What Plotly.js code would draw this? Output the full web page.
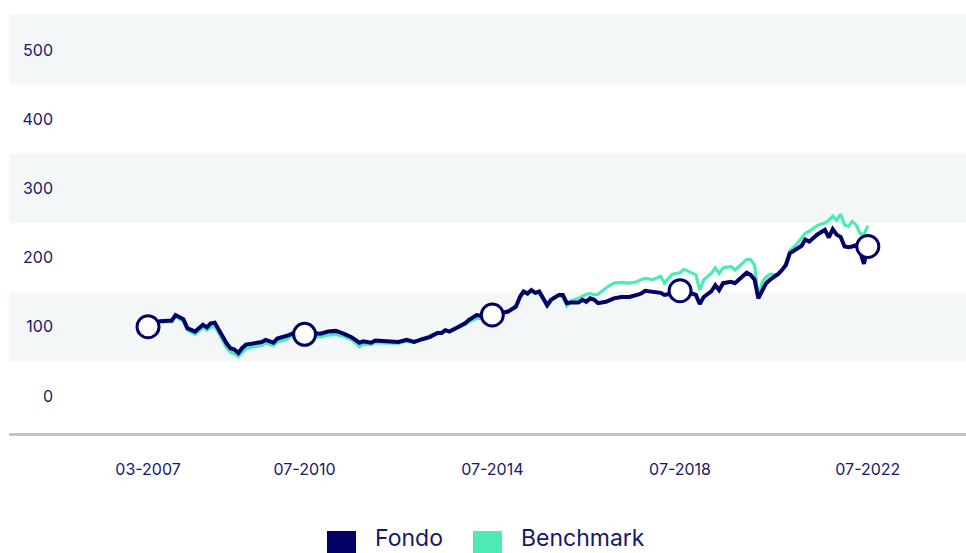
<!DOCTYPE html>
<html>
<head>
<meta charset="utf-8">
<script src="https://cdn.plot.ly/plotly-3.0.1.min.js"></script>
<style>
  html, body { margin: 0; padding: 0; background: #ffffff; }
  #chart { width: 966px; height: 553px; }
</style>
</head>
<body>
<div id="chart"></div>
<script>
// ---- Data ----
const dates = [
  '2007-03-01','2007-06-01','2007-09-01','2007-10-01','2007-12-01','2008-01-01','2008-03-01','2008-05-01','2008-06-01','2008-07-01',
  '2008-08-01','2008-09-01','2008-11-01','2008-12-01','2009-01-01','2009-02-01','2009-03-01','2009-04-01','2009-06-01','2009-08-01',
  '2009-09-01','2009-11-01','2009-12-01','2010-02-01','2010-03-01','2010-05-01','2010-07-01','2010-09-01','2010-11-01','2011-01-01',
  '2011-03-01','2011-05-01','2011-07-01','2011-09-01','2011-10-01','2011-12-01','2012-01-01','2012-04-01','2012-07-01','2012-09-01',
  '2012-11-01','2013-01-01','2013-03-01','2013-05-01','2013-06-01','2013-07-01','2013-08-01','2013-10-01','2013-12-01','2014-01-01',
  '2014-03-01','2014-04-01','2014-07-01','2014-11-01','2015-01-01','2015-02-01','2015-03-01','2015-04-01','2015-05-01','2015-06-01',
  '2015-07-01','2015-09-01','2015-10-01','2015-12-01','2016-01-01','2016-02-01','2016-03-01','2016-05-01','2016-06-01','2016-07-01',
  '2016-08-01','2016-09-01','2016-10-01','2016-12-01','2017-02-01','2017-04-01','2017-06-01','2017-08-01','2017-09-01','2017-10-01',
  '2017-12-01','2018-02-01','2018-03-01','2018-05-01','2018-07-01','2018-08-01','2018-11-01','2018-12-01','2019-01-01','2019-03-01',
  '2019-04-01','2019-05-01','2019-06-01','2019-08-01','2019-09-01','2019-10-01','2019-11-01','2019-12-01','2020-01-01','2020-02-01',
  '2020-03-01','2020-04-01','2020-05-01','2020-06-01','2020-08-01','2020-09-01','2020-10-01','2020-11-01','2021-01-01','2021-02-01',
  '2021-03-01','2021-04-01','2021-06-01','2021-07-01','2021-08-01','2021-09-01','2021-10-01','2021-11-01','2021-12-01','2022-01-01',
  '2022-02-01','2022-03-01','2022-04-01','2022-05-01','2022-06-01','2022-07-01'
];
const fondo = [
  100,108,109,117,111,98,93,103,99,105,
  106,95,76,69,67,62,69,74,76,78,
  81,77,83,86,88,93,89,91,90,93,
  94,90,85,77,79,77,80,79,78,81,
  78,82,85,91,91,95,93,99,105,110,
  117,116,117,122,129,143,151,148,153,149,
  151,131,139,146,146,134,135,135,139,136,
  141,139,134,136,141,143,143,146,148,152,
  151,149,146,148,152,152,146,133,143,151,
  160,153,163,165,163,168,173,178,175,168,
  141,153,163,168,176,182,189,206,213,217,
  226,223,233,236,240,229,241,233,230,216,
  215,216,218,209,191,216
];
const benchmark = [
  100,107,107,115,108,95,89,99,95,99,
  101,90,70,63,61,57,62,68,71,73,
  76,73,78,81,84,88,86,87,85,88,
  89,86,81,71,75,74,77,77,76,79,
  77,82,87,92,90,94,93,98,103,107,
  112,112,115,122,131,143,150,147,152,148,
  149,130,138,145,143,130,137,141,144,147,
  148,146,147,156,163,164,163,165,168,170,
  168,173,163,176,178,183,175,153,168,177,
  185,177,185,187,182,187,192,197,197,189,
  143,165,172,176,175,182,192,210,221,228,
  235,238,246,248,250,254,260,254,263,247,
  245,252,247,235,233,246
];
const tickDates = ['2007-03-01','2010-07-01','2014-07-01','2018-07-01','2022-07-01'];
const tickLabels = ['03-2007','07-2010','07-2014','07-2018','07-2022'];
const yTicks = [0, 100, 200, 300, 400, 500];
const seriesNames = ['Fondo', 'Benchmark'];

// ---- Styling ----
const NAVY = '#020266';
const MINT = '#4deab7';
const TEXT = '#17176b';
const BAND = '#f4f7f8';

const markerVals = tickDates.map(d => fondo[dates.indexOf(d)]);

const traces = [
  { x: dates, y: benchmark, type: 'scatter', mode: 'lines', name: seriesNames[1],
    line: { color: MINT, width: 3.2 }, showlegend: false, hoverinfo: 'skip' },
  { x: dates, y: fondo, type: 'scatter', mode: 'lines', name: seriesNames[0],
    line: { color: NAVY, width: 4 }, showlegend: false, hoverinfo: 'skip' },
  { x: tickDates, y: markerVals, type: 'scatter', mode: 'markers', showlegend: false, hoverinfo: 'skip',
    marker: { size: 22, color: '#ffffff', line: { color: NAVY, width: 3 } }, cliponaxis: false }
];

// plot area: x 60..966, y 14..434
const L = 60, W = 906, T = 14, H = 420;
const px = v => (v - L) / W;
const py = v => (T + H - v) / H;

const shapes = [];
[[450, 552], [250, 350], [50, 150]].forEach(b => {
  shapes.push({ type: 'rect', xref: 'paper', yref: 'y', x0: px(9), x1: 1, y0: b[0], y1: b[1],
    fillcolor: BAND, line: { width: 0 }, layer: 'below' });
});
shapes.push({ type: 'line', xref: 'paper', yref: 'paper', x0: px(9), x1: 1, y0: py(434.5), y1: py(434.5),
  line: { color: '#c4c4c4', width: 3 } });
// legend squares
shapes.push({ type: 'rect', xref: 'paper', yref: 'paper', x0: px(327), x1: px(356), y0: py(531), y1: py(560),
  fillcolor: NAVY, line: { width: 0 } });
shapes.push({ type: 'rect', xref: 'paper', yref: 'paper', x0: px(473), x1: px(502), y0: py(531), y1: py(560),
  fillcolor: MINT, line: { width: 0 } });

const annotations = [
  { text: seriesNames[0], xref: 'paper', yref: 'paper', x: px(374), y: py(553), xanchor: 'left', yanchor: 'bottom',
    borderpad: 0, showarrow: false, font: { family: 'Inter, Arial, sans-serif', size: 23, color: TEXT } },
  { text: seriesNames[1], xref: 'paper', yref: 'paper', x: px(520), y: py(553), xanchor: 'left', yanchor: 'bottom',
    borderpad: 0, showarrow: false, font: { family: 'Inter, Arial, sans-serif', size: 23, color: TEXT } }
];

const layout = {
  width: 966, height: 553,
  margin: { l: L, r: 0, t: T, b: 553 - T - H },
  paper_bgcolor: '#ffffff', plot_bgcolor: 'rgba(0,0,0,0)',
  font: { family: 'Inter, Arial, sans-serif', color: TEXT },
  showlegend: false,
  xaxis: {
    type: 'date', range: ['2005-04-15', '2024-08-03'],
    tickvals: tickDates, ticktext: tickLabels,
    showgrid: false, zeroline: false, showline: false, ticks: '',
    tickfont: { size: 16, color: TEXT }, ticklabelstandoff: 24, fixedrange: true
  },
  yaxis: {
    range: [-55, 552], tickvals: yTicks, ticktext: yTicks.map(String),
    showgrid: false, zeroline: false, showline: false, ticks: '',
    tickfont: { size: 16, color: TEXT }, ticklabelstandoff: 6, fixedrange: true
  },
  shapes: shapes,
  annotations: annotations
};

Plotly.newPlot('chart', traces, layout, { displayModeBar: false, staticPlot: true });
</script>
</body>
</html>
